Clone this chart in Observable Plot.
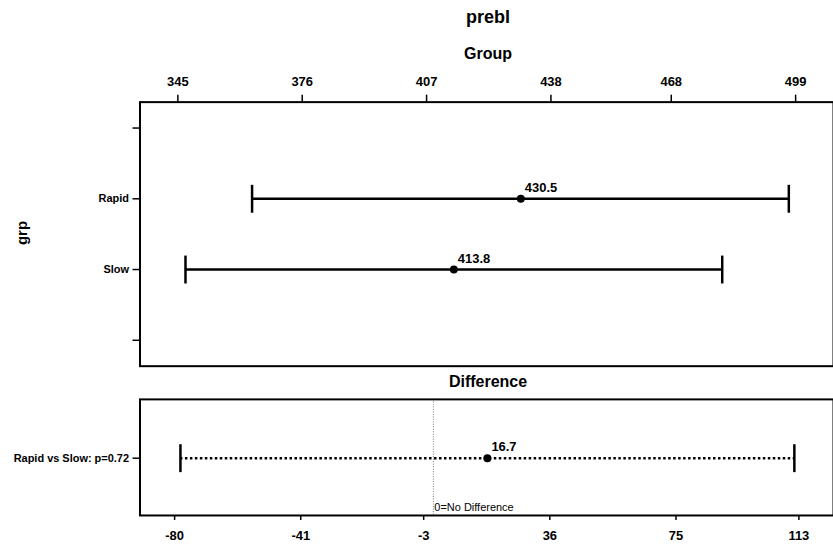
<!DOCTYPE html>
<html><head><meta charset="utf-8">
<script src="https://cdn.jsdelivr.net/npm/d3@7"></script>
<script src="https://cdn.jsdelivr.net/npm/@observablehq/plot@0.6"></script>
<style>
html,body{margin:0;padding:0;background:#fff;overflow:hidden}
#wrap{position:relative;width:833px;height:548px;overflow:hidden;background:#fff;font-family:"Liberation Sans",Arial,sans-serif;color:#000}
.ttl{position:absolute;left:140px;width:696px;text-align:center;font-weight:bold;line-height:1;white-space:nowrap}
#wrap svg{position:absolute;left:0}
#grp{position:absolute;left:21px;top:233px;font-size:15px;font-weight:bold;line-height:1;white-space:nowrap;transform:translate(-50%,-50%) rotate(-90deg)}
</style></head><body>
<div id="wrap">
  <div class="ttl" style="top:8px;font-size:18px">prebl</div>
  <div class="ttl" style="top:45.5px;font-size:16px">Group</div>
  <div class="ttl" style="top:374px;font-size:16px">Difference</div>
  <div id="grp">grp</div>
</div>
<script>
// ---- data ----
const groups = ["Rapid", "Slow"];
const means = [430.5, 413.8];
const lower = [363.5, 346.9];
const upper = [497.3, 480.7];
const yAxisSlots = ["", "Rapid", "Slow", " "];
const topTicks = [345, 376, 407, 438, 468, 499];

const diffLabels = ["Rapid vs Slow: p=0.72"];
const diffMeans = [16.7];
const diffLower = [-78.2];
const diffUpper = [111.6];
const bottomTicks = [-80, -41, -3, 36, 75, 113];
const refValue = [0];
const refText = "0=No Difference";

// ---- build ----
const font = "Liberation Sans, Arial, sans-serif";
const topData = groups.map((g, i) => ({name: g, mean: means[i], lo: lower[i], hi: upper[i]}));
const diffData = diffLabels.map((g, i) => ({name: g, mean: diffMeans[i], lo: diffLower[i], hi: diffUpper[i]}));
const cap = {draw(ctx, size) { const r = Math.sqrt(size / Math.PI); ctx.moveTo(0, -r); ctx.lineTo(0, r); }};

function errorMarks(data, dashed) {
  return [
    Plot.ruleY(data, {y: "name", x1: "lo", x2: "hi", stroke: "black", strokeWidth: 2.5, strokeDasharray: dashed ? "2.5,2.5" : null}),
    Plot.dot(data, {x: "lo", y: "name", symbol: cap, r: 14, stroke: "black", strokeWidth: 2.5, fill: "none"}),
    Plot.dot(data, {x: "hi", y: "name", symbol: cap, r: 14, stroke: "black", strokeWidth: 2.5, fill: "none"}),
    Plot.dot(data, {x: "mean", y: "name", r: 4, fill: "black", stroke: "none"}),
    Plot.text(data, {x: "mean", y: "name", text: d => d.mean.toFixed(1), textAnchor: "start", dx: 4, dy: -11, fontSize: 13, fontWeight: "bold", fill: "black"})
  ];
}

const topPlot = Plot.plot({
  width: 836, height: 370,
  marginTop: 102, marginBottom: 3, marginLeft: 140, marginRight: 0,
  style: {fontFamily: font, background: "transparent", color: "black"},
  x: {domain: [335.56, 508.44]},
  y: {type: "point", domain: yAxisSlots, range: [128, 341], padding: 0},
  marks: [
    Plot.frame({stroke: "black", strokeWidth: 2}),
    Plot.axisX({anchor: "top", ticks: topTicks, tickSize: 8, tickPadding: 8, tickFormat: d => String(d), fontSize: 13, fontWeight: "bold", strokeWidth: 1.5, label: null}),
    Plot.axisY({anchor: "left", ticks: yAxisSlots, tickSize: 7, tickPadding: 4, tickFormat: d => d.trim(), fontSize: 11, fontWeight: "bold", strokeWidth: 1.5, label: null}),
    ...errorMarks(topData, false)
  ]
});
topPlot.style.top = "0px";

const botPlot = Plot.plot({
  width: 836, height: 178,
  marginTop: 29, marginBottom: 32.5, marginLeft: 140, marginRight: 0,
  style: {fontFamily: font, background: "transparent", color: "black"},
  x: {domain: [-90.7, 123.7]},
  y: {type: "point", domain: diffLabels, range: [88, 88], padding: 0},
  marks: [
    Plot.ruleX(refValue, {x: d => d, stroke: "#777", strokeWidth: 1, strokeDasharray: "1,1.5"}),
    Plot.text(refValue, {x: d => d, text: () => refText, frameAnchor: "bottom", textAnchor: "start", dx: 1, dy: -4, fontSize: 11, fill: "black"}),
    Plot.frame({stroke: "black", strokeWidth: 2}),
    Plot.axisX({anchor: "bottom", ticks: bottomTicks, tickSize: 5, tickPadding: 10, tickFormat: d => String(d), fontSize: 13, fontWeight: "bold", strokeWidth: 1.5, label: null}),
    Plot.axisY({anchor: "left", ticks: diffLabels, tickSize: 7, tickPadding: 4, fontSize: 11, fontWeight: "bold", strokeWidth: 1.5, label: null}),
    ...errorMarks(diffData, true)
  ]
});
botPlot.style.top = "370px";

const wrap = document.getElementById("wrap");
wrap.appendChild(topPlot);
wrap.appendChild(botPlot);
</script>
</body></html>
